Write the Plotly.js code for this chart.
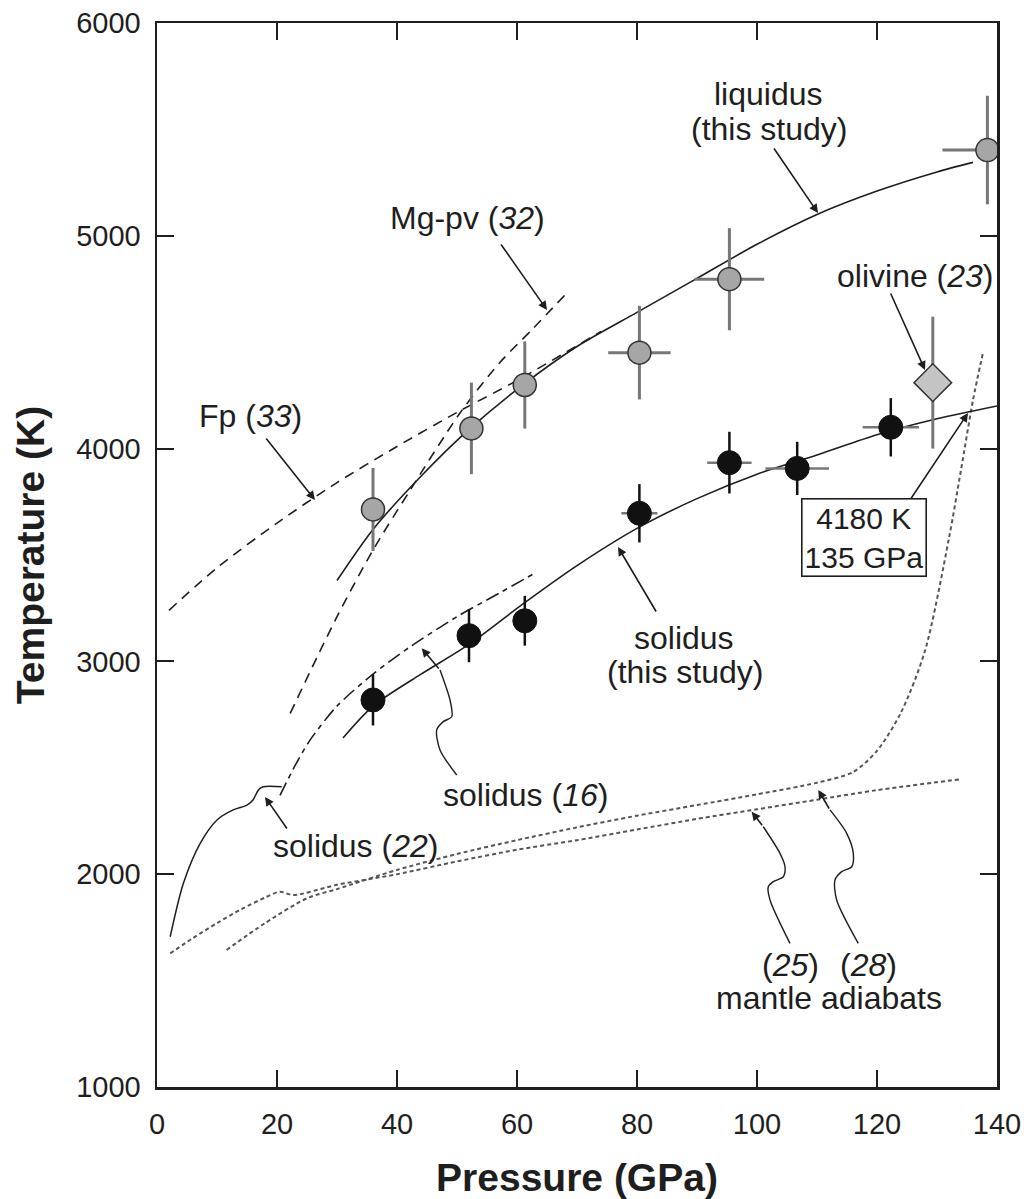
<!DOCTYPE html>
<html>
<head>
<meta charset="utf-8">
<script src="https://cdn.plot.ly/plotly-3.0.1.min.js"></script>
<style>html,body{margin:0;padding:0;background:#fff;}#chart{width:1029px;height:1199px;}</style>
</head>
<body>
<div id="chart"></div>
<script>
// ---------------- data ----------------
// experimental points, this study
const liqP   = [36.0, 52.4, 61.3, 80.4, 95.4, 138.4];
const liqT   = [3714, 4095, 4299, 4451, 4796, 5403];
const liqTerr = [195, 215, 205, 220, 240, 255];
const liqPerrPlus  = [1.5, 1.5, 2.0, 5.2, 5.8, 1.6];
const liqPerrMinus = [1.5, 1.5, 2.0, 5.2, 5.8, 7.5];

const solP   = [36.0, 52.0, 61.3, 80.4, 95.4, 106.7, 122.3];
const solT   = [2819, 3121, 3191, 3696, 3934, 3907, 4100];
const solTerr = [120, 125, 117, 137, 145, 125, 137];
const solPerr = [0, 0, 0, 3.0, 3.7, 5.3, 4.7];

const olivP = [129.3];
const olivT = [4310];
const olivTerr = [310];

// fitted curves, this study
const liqCurveP = [30, 36, 44, 52, 61, 70, 80, 90, 100, 110, 120, 130, 136];
const liqCurveT = [3380, 3620, 3870, 4090, 4300, 4480, 4640, 4800, 4960, 5100, 5210, 5300, 5345];
const solCurveP = [31, 36, 44, 52, 61, 70, 80, 90, 100, 110, 120, 130, 140];
const solCurveT = [2640, 2790, 2940, 3080, 3270, 3450, 3625, 3765, 3880, 3970, 4065, 4140, 4200];

// literature curves
const mgpvP = [22.2, 30, 36, 42.2, 50.5, 57, 62.7, 68];
const mgpvT = [2756, 3210, 3523, 3805, 4167, 4400, 4565, 4722];
const fpP = [2, 10, 20, 30, 40, 50, 60, 74];
const fpT = [3240, 3440, 3650, 3840, 4010, 4170, 4320, 4550];
const sol16P = [20.5, 23, 25.5, 30, 36, 42, 50, 57, 63];
const sol16T = [2370, 2510, 2630, 2790, 2940, 3065, 3210, 3320, 3415];
const sol22P = [2.2, 4.4, 7.2, 10.0, 12.7, 15.0, 16.0, 16.9, 17.7, 20.8];
const sol22T = [1706, 1957, 2145, 2255, 2302, 2325, 2349, 2396, 2411, 2411];

// mantle adiabats
const ad25P = [2.2, 6, 10, 14, 18, 20.5, 22.7, 30, 40, 50, 60, 70, 80, 90, 100, 110, 120, 133.8];
const ad25T = [1628, 1700, 1770, 1835, 1890, 1918, 1902, 1950, 2000, 2060, 2115, 2160, 2210, 2260, 2305, 2350, 2395, 2446];
const ad28P = [11.6, 18, 25, 30, 40, 50, 60, 70, 80, 90, 100, 110, 116, 120, 124, 128, 132, 134, 136, 137.7];
const ad28T = [1644, 1770, 1887, 1930, 2020, 2095, 2160, 2220, 2275, 2325, 2375, 2430, 2480, 2580, 2760, 3050, 3580, 3900, 4228, 4455];

// curly leader lines of the labels
const sq16P = [49.95, 47.17, 46.62, 47.72, 49.12, 48.83, 47.17];
const sq16T = [2466, 2584, 2678, 2717, 2740, 2819, 2960];
const sq25P = [105.5, 102.17, 101.88, 102.72, 104.38, 104.67, 103.83, 101.05];
const sq25T = [1675, 1879, 1941, 1965, 1988, 2035, 2098, 2223];
const sq28P = [116.88, 113.28, 113.0, 114.12, 115.78, 116.05, 114.95, 112.17];
const sq28T = [1675, 1879, 1973, 2012, 2035, 2098, 2192, 2302];

const xTicks = [0, 20, 40, 60, 80, 100, 120, 140];
const yTicks = [1000, 2000, 3000, 4000, 5000, 6000];

// ---------------- helpers for label placement ----------------
const L = 157, T0 = 23, PW = 840, PH = 1064;
const px = x => (x - L) / PW * 140;
const py = y => 6000 - (y - T0) / PH * 5000;

const INK = '#1e1e1e';
const FONT = 'Liberation Sans, Arial, Helvetica, sans-serif';

function line(x, y, dash, width, color, shape) {
  return {x: x, y: y, type: 'scatter', mode: 'lines', hoverinfo: 'skip', showlegend: false,
    line: {color: color || INK, width: width || 1.6, dash: dash || 'solid', shape: shape || 'spline', smoothing: 0.8}};
}

const traces = [
  line(fpP, fpT, '10px,7px', 1.6),
  line(mgpvP, mgpvT, '10px,7px', 1.6),
  line(sol16P, sol16T, '14px,5px,5px,5px', 1.6),
  line(sol22P, sol22T, 'solid', 1.5),
  line(ad25P, ad25T, '4px,3px', 2, '#555'),
  line(ad28P, ad28T, '4px,3px', 2, '#555'),
  line(liqCurveP, liqCurveT, 'solid', 1.6),
  line(solCurveP, solCurveT, 'solid', 1.6),
  line(sq16P, sq16T, 'solid', 1.4),
  line(sq25P, sq25T, 'solid', 1.4),
  line(sq28P, sq28T, 'solid', 1.4),
  {x: liqP, y: liqT, type: 'scatter', mode: 'markers', showlegend: false, cliponaxis: false,
    marker: {size: 23, color: '#a6a6a6', line: {color: '#333', width: 1.5}},
    error_y: {type: 'data', array: liqTerr, color: '#777', thickness: 3, width: 0},
    error_x: {type: 'data', symmetric: false, array: liqPerrPlus, arrayminus: liqPerrMinus, color: '#777', thickness: 3, width: 0}},
  {x: olivP, y: olivT, type: 'scatter', mode: 'markers', showlegend: false,
    marker: {symbol: 'diamond', size: 29, color: '#c4c4c4', line: {color: '#333', width: 1.5}},
    error_y: {type: 'data', array: olivTerr, color: '#777', thickness: 3, width: 0}},
  {x: solP, y: solT, type: 'scatter', mode: 'markers', showlegend: false,
    marker: {size: 24, color: '#111', line: {color: '#111', width: 1}},
    error_y: {type: 'data', array: solTerr, color: '#111', thickness: 2.5, width: 0},
    error_x: {type: 'data', array: solPerr, color: '#777', thickness: 2.5, width: 0}}
];

function label(x, y, text, size) {
  return {x: px(x), y: py(y), xref: 'x', yref: 'y', text: text, showarrow: false,
    xanchor: 'center', yanchor: 'middle', font: {family: FONT, size: size || 32, color: INK}};
}
function arrow(tx, ty, hx, hy) {
  return {x: px(hx), y: py(hy), ax: px(tx), ay: py(ty), xref: 'x', yref: 'y', axref: 'x', ayref: 'y',
    text: '', showarrow: true, arrowhead: 2, arrowsize: 1.1, arrowwidth: 1.6, arrowcolor: INK, standoff: 0};
}

const boxLabel = label(864, 537, '4180 K<br>135 GPa', 30);
boxLabel.bordercolor = INK;
boxLabel.borderwidth = 1.6;
boxLabel.borderpad = 2;
boxLabel.bgcolor = 'rgba(255,255,255,0)';

const annotations = [
  label(768, 94, 'liquidus'), label(769, 129, '(this study)'),
  arrow(773, 147, 818, 213),
  label(467, 218, 'Mg-pv (<i>32</i>)'),
  arrow(500, 243, 547, 310),
  label(250, 416, 'Fp (<i>33</i>)'),
  arrow(265, 437, 315, 500),
  label(915, 276, 'olivine (<i>23</i>)'),
  arrow(890, 292, 925, 370),
  boxLabel,
  arrow(910, 500, 968, 413),
  label(684, 638, 'solidus'), label(685, 672, '(this study)'),
  arrow(657, 613, 618, 547),
  label(525, 795, 'solidus (<i>16</i>)'),
  arrow(440, 670, 421.7, 648.3),
  label(355, 846, 'solidus (<i>22</i>)'),
  arrow(288, 830, 265, 797),
  label(790, 965, '(<i>25</i>)'), label(868, 965, '(<i>28</i>)'),
  label(829, 998, 'mantle adiabats'),
  arrow(763.3, 826.7, 751.7, 811.7),
  arrow(830, 810, 818.3, 790)
];

const axisCommon = {
  ticks: 'inside', ticklen: 17, tickwidth: 2, tickcolor: INK,
  showline: true, linewidth: 2.5, linecolor: INK, mirror: 'ticks',
  showgrid: false, zeroline: false, automargin: false,
  tickfont: {family: FONT, size: 29, color: INK}
};

const layout = {
  width: 1029, height: 1199,
  margin: {l: L, r: 1029 - L - PW, t: T0, b: 1199 - T0 - PH},
  paper_bgcolor: '#fff', plot_bgcolor: '#fff',
  showlegend: false,
  font: {family: FONT, color: INK},
  xaxis: Object.assign({}, axisCommon, {
    range: [0, 140], tickmode: 'array', tickvals: xTicks, ticktext: xTicks.map(String),
    ticklabelstandoff: 10,
    title: {text: 'Pressure (GPa)', standoff: 28, font: {family: FONT, size: 39, weight: 700, color: INK}}
  }),
  yaxis: Object.assign({}, axisCommon, {
    range: [1000, 6000], tickmode: 'array', tickvals: yTicks, ticktext: yTicks.map(String),
    ticklabelstandoff: 8,
    title: {text: 'Temperature (K)', standoff: 20, font: {family: FONT, size: 39, weight: 700, color: INK}}
  }),
  annotations: annotations
};

Plotly.newPlot('chart', traces, layout, {staticPlot: true, displayModeBar: false});
</script>
</body>
</html>
